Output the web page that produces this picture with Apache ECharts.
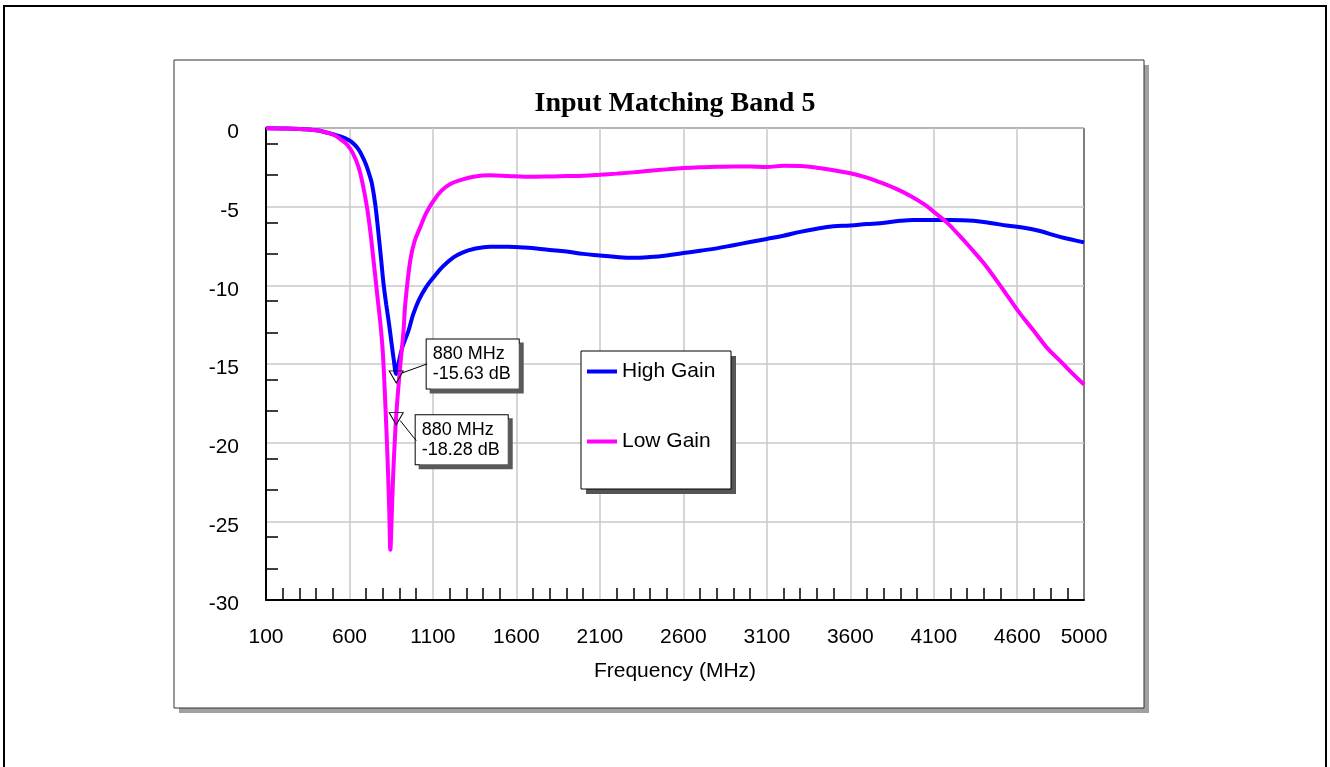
<!DOCTYPE html>
<html><head><meta charset="utf-8">
<script src="https://cdn.jsdelivr.net/npm/echarts@6/dist/echarts.min.js"></script>
<style>html,body{margin:0;padding:0;background:#fff}#c{width:1330px;height:767px}</style>
</head><body><div id="c"></div>
<script>
// ---- data ----
const highFreq = [100,200,300,400,450,500,550,600,625,650,675,700,720,735,755,774,790,804,820,835,850,865,880,895,915,935,954,980,1014,1060,1104,1160,1223,1280,1343,1443,1550,1650,1800,1900,2000,2100,2200,2300,2400,2500,2600,2700,2800,2900,3000,3100,3200,3300,3400,3500,3600,3700,3779,3900,3978,4104,4200,4337,4450,4537,4650,4736,4856,4930,5000];
const highDb   = [-0.02,-0.03,-0.06,-0.15,-0.25,-0.4,-0.55,-0.8,-1.0,-1.3,-1.75,-2.35,-3.0,-3.56,-4.9,-6.73,-8.4,-9.9,-11.2,-12.3,-13.5,-14.7,-15.63,-14.9,-14.0,-13.4,-12.87,-11.9,-10.97,-10.1,-9.49,-8.8,-8.22,-7.9,-7.69,-7.55,-7.55,-7.6,-7.75,-7.85,-8.0,-8.1,-8.2,-8.25,-8.2,-8.1,-7.95,-7.8,-7.65,-7.45,-7.25,-7.05,-6.85,-6.6,-6.4,-6.25,-6.2,-6.1,-6.05,-5.9,-5.85,-5.85,-5.85,-5.9,-6.05,-6.2,-6.35,-6.55,-6.92,-7.1,-7.27];
const lowFreq  = [100,200,300,400,450,500,545,585,620,655,680,705,725,744,768,785,800,815,828,838,845,852,862,872,880,900,924,934,964,990,1024,1060,1104,1150,1204,1270,1343,1443,1550,1650,1800,1900,2000,2100,2200,2300,2400,2500,2600,2700,2800,2900,3000,3100,3200,3300,3400,3500,3600,3700,3779,3850,3958,4050,4104,4178,4250,4317,4400,4477,4550,4617,4700,4776,4866,4930,5000];
const lowDb    = [-0.02,-0.03,-0.06,-0.15,-0.25,-0.4,-0.7,-1.05,-1.6,-2.5,-3.6,-5.04,-6.6,-8.4,-10.76,-12.4,-14.3,-17.6,-21,-24.2,-26.8,-25,-22,-19.8,-18.28,-15.6,-12.87,-11.2,-8.43,-7.2,-6.3,-5.4,-4.62,-4.0,-3.56,-3.3,-3.1,-3.01,-3.05,-3.1,-3.08,-3.05,-3.03,-2.97,-2.9,-2.82,-2.72,-2.63,-2.55,-2.5,-2.47,-2.44,-2.45,-2.48,-2.4,-2.42,-2.52,-2.68,-2.88,-3.15,-3.45,-3.75,-4.3,-4.9,-5.36,-6.0,-6.8,-7.58,-8.6,-9.7,-10.8,-11.8,-12.9,-13.94,-14.9,-15.6,-16.3];
const seriesNames = ['High Gain','Low Gain'];
const xLabelValues = [100,600,1100,1600,2100,2600,3100,3600,4100,4600,5000];
const xGridValues  = [600,1100,1600,2100,2600,3100,3600,4100,4600];
const xMinorTicks  = [200,300,400,500,700,800,900,1000,1200,1300,1400,1500,1700,1800,1900,2000,2200,2300,2400,2500,2700,2800,2900,3000,3200,3300,3400,3500,3700,3800,3900,4000,4200,4300,4400,4500,4700,4800,4900];
const yMinorTicks  = [-1,-3,-6,-8,-11,-13,-16,-18,-21,-23,-26,-28];
const markerFreq = 880;
const highMarkerDb = -15.63;
const lowMarkerDb = -18.28;

const FONT = '"Liberation Sans", Arial, sans-serif';
const pairs = (xs, ys) => xs.map((x, i) => [x, ys[i]]);

const chart = echarts.init(document.getElementById('c'), null, {renderer: 'canvas'});

const markerLabel = (txt, pos) => ({
  show: true, formatter: txt, position: pos, align: 'left', verticalAlign: 'top',
  color: '#000', fontSize: 18, lineHeight: 20, fontFamily: FONT,
  backgroundColor: '#fff', borderColor: '#000', borderWidth: 1,
  padding: [5, 8, 4, 6], shadowColor: '#5a5a5a', shadowOffsetX: 4, shadowOffsetY: 4, shadowBlur: 0
});
const markerStyle = {color: 'rgba(0,0,0,0)', borderColor: '#000', borderWidth: 1};
const triPath = 'path://M0,0 L14,0 L7,12 Z';

const option = {
  animation: false,
  backgroundColor: '#fff',
  graphic: [
    {type: 'rect', id: 'outer', z: -20, shape: {x: 4, y: 6, width: 1322, height: 800}, style: {fill: '#fff', stroke: '#000', lineWidth: 2}},
    {type: 'rect', id: 'frameShadow', z: -19, shape: {x: 179, y: 65, width: 970, height: 648}, style: {fill: '#a0a0a0'}},
    {type: 'rect', id: 'frame', z: -18, shape: {x: 174, y: 60, width: 970, height: 648}, style: {fill: '#fff', stroke: '#333', lineWidth: 1}},
    {type: 'text', id: 'title', z: 5, x: 675, y: 104, style: {text: 'Input Matching Band 5', fill: '#000', font: 'bold 28px "Liberation Serif", "Times New Roman", serif', align: 'center', verticalAlign: 'middle'}},
    {type: 'rect', id: 'legShadow', z: 3, shape: {x: 586, y: 356, width: 150, height: 138}, style: {fill: '#555'}},
    {type: 'rect', id: 'legBox', z: 3, shape: {x: 581, y: 351, width: 150, height: 138}, style: {fill: '#fff', stroke: '#000', lineWidth: 1}}
  ],
  grid: {left: 266, top: 128, right: 246, bottom: 167, show: true, borderColor: '#000', borderWidth: 1, backgroundColor: 'rgba(0,0,0,0)'},
  legend: {
    orient: 'vertical', left: 587, top: 361, itemWidth: 30, itemHeight: 4, itemGap: 49,
    icon: 'rect', selectedMode: false, padding: 0, z: 4,
    textStyle: {color: '#000', fontSize: 21, lineHeight: 20, fontFamily: FONT},
    data: seriesNames
  },
  xAxis: [
    {type: 'value', min: 100, max: 5000,
     axisLine: {onZero: false, lineStyle: {color: '#000', width: 2}},
     axisTick: {show: false, customValues: xGridValues},
     splitLine: {show: true, lineStyle: {color: '#c8c8c8', width: 1.5}},
     axisLabel: {customValues: xLabelValues, formatter: v => String(v), color: '#000', fontSize: 21, fontFamily: FONT, margin: 27},
     name: 'Frequency (MHz)', nameLocation: 'middle', nameGap: 61,
     nameTextStyle: {color: '#000', fontSize: 21, fontFamily: FONT}},
    {type: 'value', min: 100, max: 5000, position: 'bottom',
     axisLine: {show: false, onZero: false},
     axisTick: {show: true, inside: true, length: 12, customValues: xMinorTicks, lineStyle: {color: '#000', width: 1.5}},
     axisLabel: {show: false}, splitLine: {show: false}}
  ],
  yAxis: [
    {type: 'value', min: -30, max: 0, interval: 5,
     axisLine: {onZero: false, lineStyle: {color: '#000', width: 2}},
     axisTick: {show: false},
     splitLine: {show: true, lineStyle: {color: '#c8c8c8', width: 1.5}},
     axisLabel: {margin: 27, formatter: v => '{a|' + v + '}',
       rich: {a: {color: '#000', fontSize: 21, fontFamily: FONT, padding: [9, 0, 0, 0]}}}},
    {type: 'value', min: -30, max: 0, position: 'left',
     axisLine: {show: false, onZero: false},
     axisTick: {show: true, inside: true, length: 12, customValues: yMinorTicks, lineStyle: {color: '#000', width: 1.5}},
     axisLabel: {show: false}, splitLine: {show: false}}
  ],
  series: [
    {name: seriesNames[0], type: 'line', xAxisIndex: 0, yAxisIndex: 0, data: pairs(highFreq, highDb),
     showSymbol: false, symbol: 'none', smooth: 0.4,
     lineStyle: {color: '#0000ff', width: 4}, itemStyle: {color: '#0000ff'},
     markPoint: {symbol: triPath, symbolSize: [14, 12], symbolOffset: [0, 3], itemStyle: markerStyle, z: 10,
       data: [{coord: [markerFreq, highMarkerDb], label: markerLabel(markerFreq + ' MHz\n' + highMarkerDb.toFixed(2) + ' dB', [38, -31])}]}},
    {name: seriesNames[1], type: 'line', xAxisIndex: 0, yAxisIndex: 0, data: pairs(lowFreq, lowDb),
     showSymbol: false, symbol: 'none', smooth: 0.4,
     lineStyle: {color: '#ff00ff', width: 4}, itemStyle: {color: '#ff00ff'},
     markPoint: {symbol: triPath, symbolSize: [14, 12], symbolOffset: [0, 3], itemStyle: markerStyle, z: 10,
       data: [{coord: [markerFreq, lowMarkerDb], label: markerLabel(markerFreq + ' MHz\n' + lowMarkerDb.toFixed(2) + ' dB', [27, 3])}]}}
  ]
};
chart.setOption(option);

// leader lines from the markers to their labels
const p1 = chart.convertToPixel({xAxisIndex: 0, yAxisIndex: 0}, [markerFreq, highMarkerDb]);
const p2 = chart.convertToPixel({xAxisIndex: 0, yAxisIndex: 0}, [markerFreq, lowMarkerDb]);
chart.setOption({graphic: [
  {type: 'line', id: 'lead1', z: 20, shape: {x1: p1[0] + 6, y1: p1[1] - 1, x2: p1[0] + 31, y2: p1[1] - 10}, style: {stroke: '#000', lineWidth: 1}},
  {type: 'line', id: 'lead2', z: 20, shape: {x1: p2[0] + 4, y1: p2[1] + 5, x2: p2[0] + 20, y2: p2[1] + 25}, style: {stroke: '#000', lineWidth: 1}}
]});
</script></body></html>
